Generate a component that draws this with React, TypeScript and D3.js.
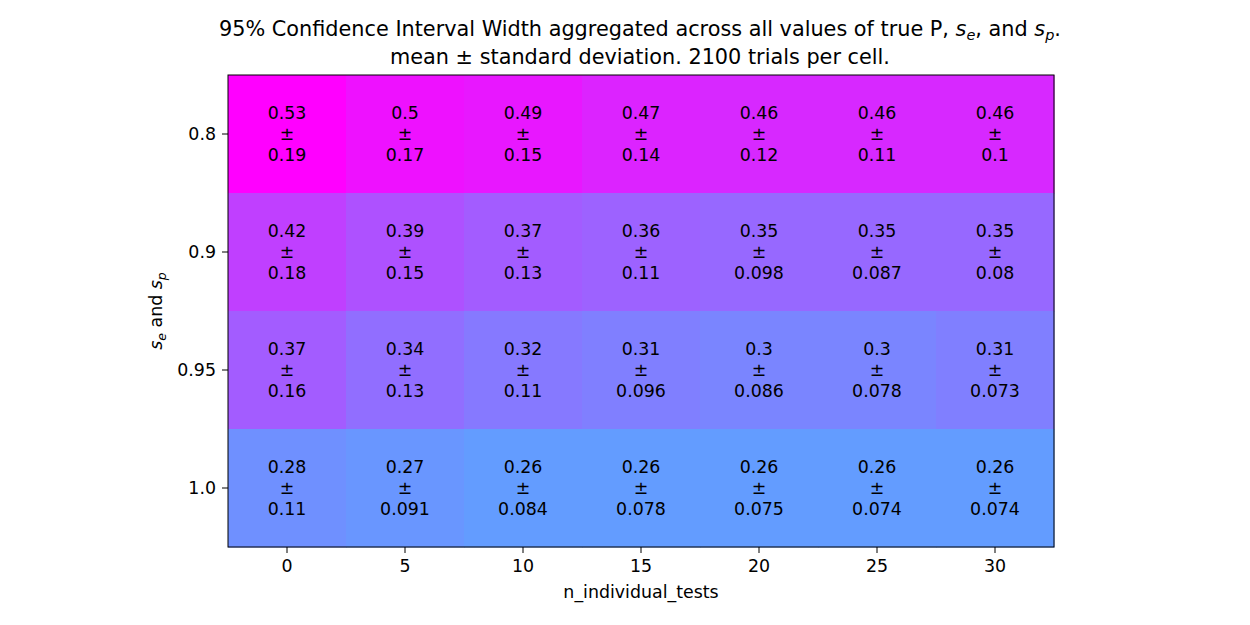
import React from 'react';
import * as d3 from 'd3';

const nTests = [0, 5, 10, 15, 20, 25, 30];
const seSp = ['0.8', '0.9', '0.95', '1.0'];

const means = [
  [0.53, 0.5, 0.49, 0.47, 0.46, 0.46, 0.46],
  [0.42, 0.39, 0.37, 0.36, 0.35, 0.35, 0.35],
  [0.37, 0.34, 0.32, 0.31, 0.3, 0.3, 0.31],
  [0.28, 0.27, 0.26, 0.26, 0.26, 0.26, 0.26],
];
const stds = [
  [0.19, 0.17, 0.15, 0.14, 0.12, 0.11, 0.1],
  [0.18, 0.15, 0.13, 0.11, 0.098, 0.087, 0.08],
  [0.16, 0.13, 0.11, 0.096, 0.086, 0.078, 0.073],
  [0.11, 0.091, 0.084, 0.078, 0.075, 0.074, 0.074],
];

const FONT = "'DejaVu Sans', sans-serif";
const FS = 17.4;

export default function App() {
  const width = 1250;
  const height = 625;
  const margin = { top: 75, right: 196, bottom: 78, left: 228 };

  const x = d3.scaleBand<number>()
    .domain(nTests)
    .range([margin.left, width - margin.right])
    .padding(0);
  const y = d3.scaleBand<string>()
    .domain(seSp)
    .range([margin.top, height - margin.bottom])
    .padding(0);

  // matplotlib "cool": cyan -> magenta
  const color = d3.scaleLinear<string>()
    .domain([0.088, 0.53])
    .range(['#00ffff', '#ff00ff'])
    .interpolate(d3.interpolateRgb)
    .clamp(true);

  const bottom = height - margin.bottom;
  const cx = (margin.left + width - margin.right) / 2;

  return (
    <svg
      width={width}
      height={height}
      style={{ position: 'absolute', left: 0, top: 0, background: '#fff', fontFamily: FONT }}
    >
      {/* Cells */}
      {means.map((row, i) =>
        row.map((m, j) => (
          <rect
            key={`${i}-${j}`}
            x={x(nTests[j])}
            y={y(seSp[i])}
            width={x.bandwidth() + 0.5}
            height={y.bandwidth() + 0.5}
            fill={color(m)}
          />
        ))
      )}
      {/* Cell labels */}
      {means.map((row, i) =>
        row.map((m, j) => {
          const tx = x(nTests[j])! + x.bandwidth() / 2;
          const ty = y(seSp[i])! + y.bandwidth() / 2;
          return (
            <g key={`t${i}-${j}`} fontSize={FS} fill="#000" textAnchor="middle">
              <text x={tx} y={ty - 21 + 6}>{String(m)}</text>
              <text x={tx} y={ty + 6}>±</text>
              <text x={tx} y={ty + 21 + 6}>{String(stds[i][j])}</text>
            </g>
          );
        })
      )}
      {/* Frame */}
      <rect
        x={margin.left}
        y={margin.top}
        width={width - margin.left - margin.right}
        height={bottom - margin.top}
        fill="none"
        stroke="#000"
        strokeWidth={1}
      />
      {/* X axis */}
      {nTests.map(t => {
        const px = x(t)! + x.bandwidth() / 2;
        return (
          <g key={t}>
            <line x1={px} x2={px} y1={bottom} y2={bottom + 6} stroke="#000" />
            <text x={px} y={bottom + 25} textAnchor="middle" fontSize={FS}>{t}</text>
          </g>
        );
      })}
      <text x={cx} y={bottom + 51} textAnchor="middle" fontSize={FS}>n_individual_tests</text>
      {/* Y axis */}
      {seSp.map(s => {
        const py = y(s)! + y.bandwidth() / 2;
        return (
          <g key={s}>
            <line x1={margin.left - 6} x2={margin.left} y1={py} y2={py} stroke="#000" />
            <text x={margin.left - 12} y={py + 6} textAnchor="end" fontSize={FS}>{s}</text>
          </g>
        );
      })}
      <text
        x={162}
        y={(margin.top + bottom) / 2}
        textAnchor="middle"
        fontSize={FS}
        transform={`rotate(-90 162,${(margin.top + bottom) / 2})`}
      >
        <tspan fontStyle="italic">s</tspan>
        <tspan fontStyle="italic" fontSize={12.5} dy={4}>e</tspan>
        <tspan dy={-4}> and </tspan>
        <tspan fontStyle="italic">s</tspan>
        <tspan fontStyle="italic" fontSize={12.5} dy={4}>p</tspan>
      </text>
      {/* Title */}
      <text x={640} y={36} textAnchor="middle" fontSize={20.8}>
        <tspan>95% Confidence Interval Width aggregated across all values of true P, </tspan>
        <tspan fontStyle="italic">s</tspan>
        <tspan fontStyle="italic" fontSize={14.5} dy={4}>e</tspan>
        <tspan dy={-4}>, and </tspan>
        <tspan fontStyle="italic">s</tspan>
        <tspan fontStyle="italic" fontSize={14.5} dy={4}>p</tspan>
        <tspan dy={-4}>.</tspan>
      </text>
      <text x={640} y={64} textAnchor="middle" fontSize={20.8}>
        mean ± standard deviation. 2100 trials per cell.
      </text>
    </svg>
  );
}
